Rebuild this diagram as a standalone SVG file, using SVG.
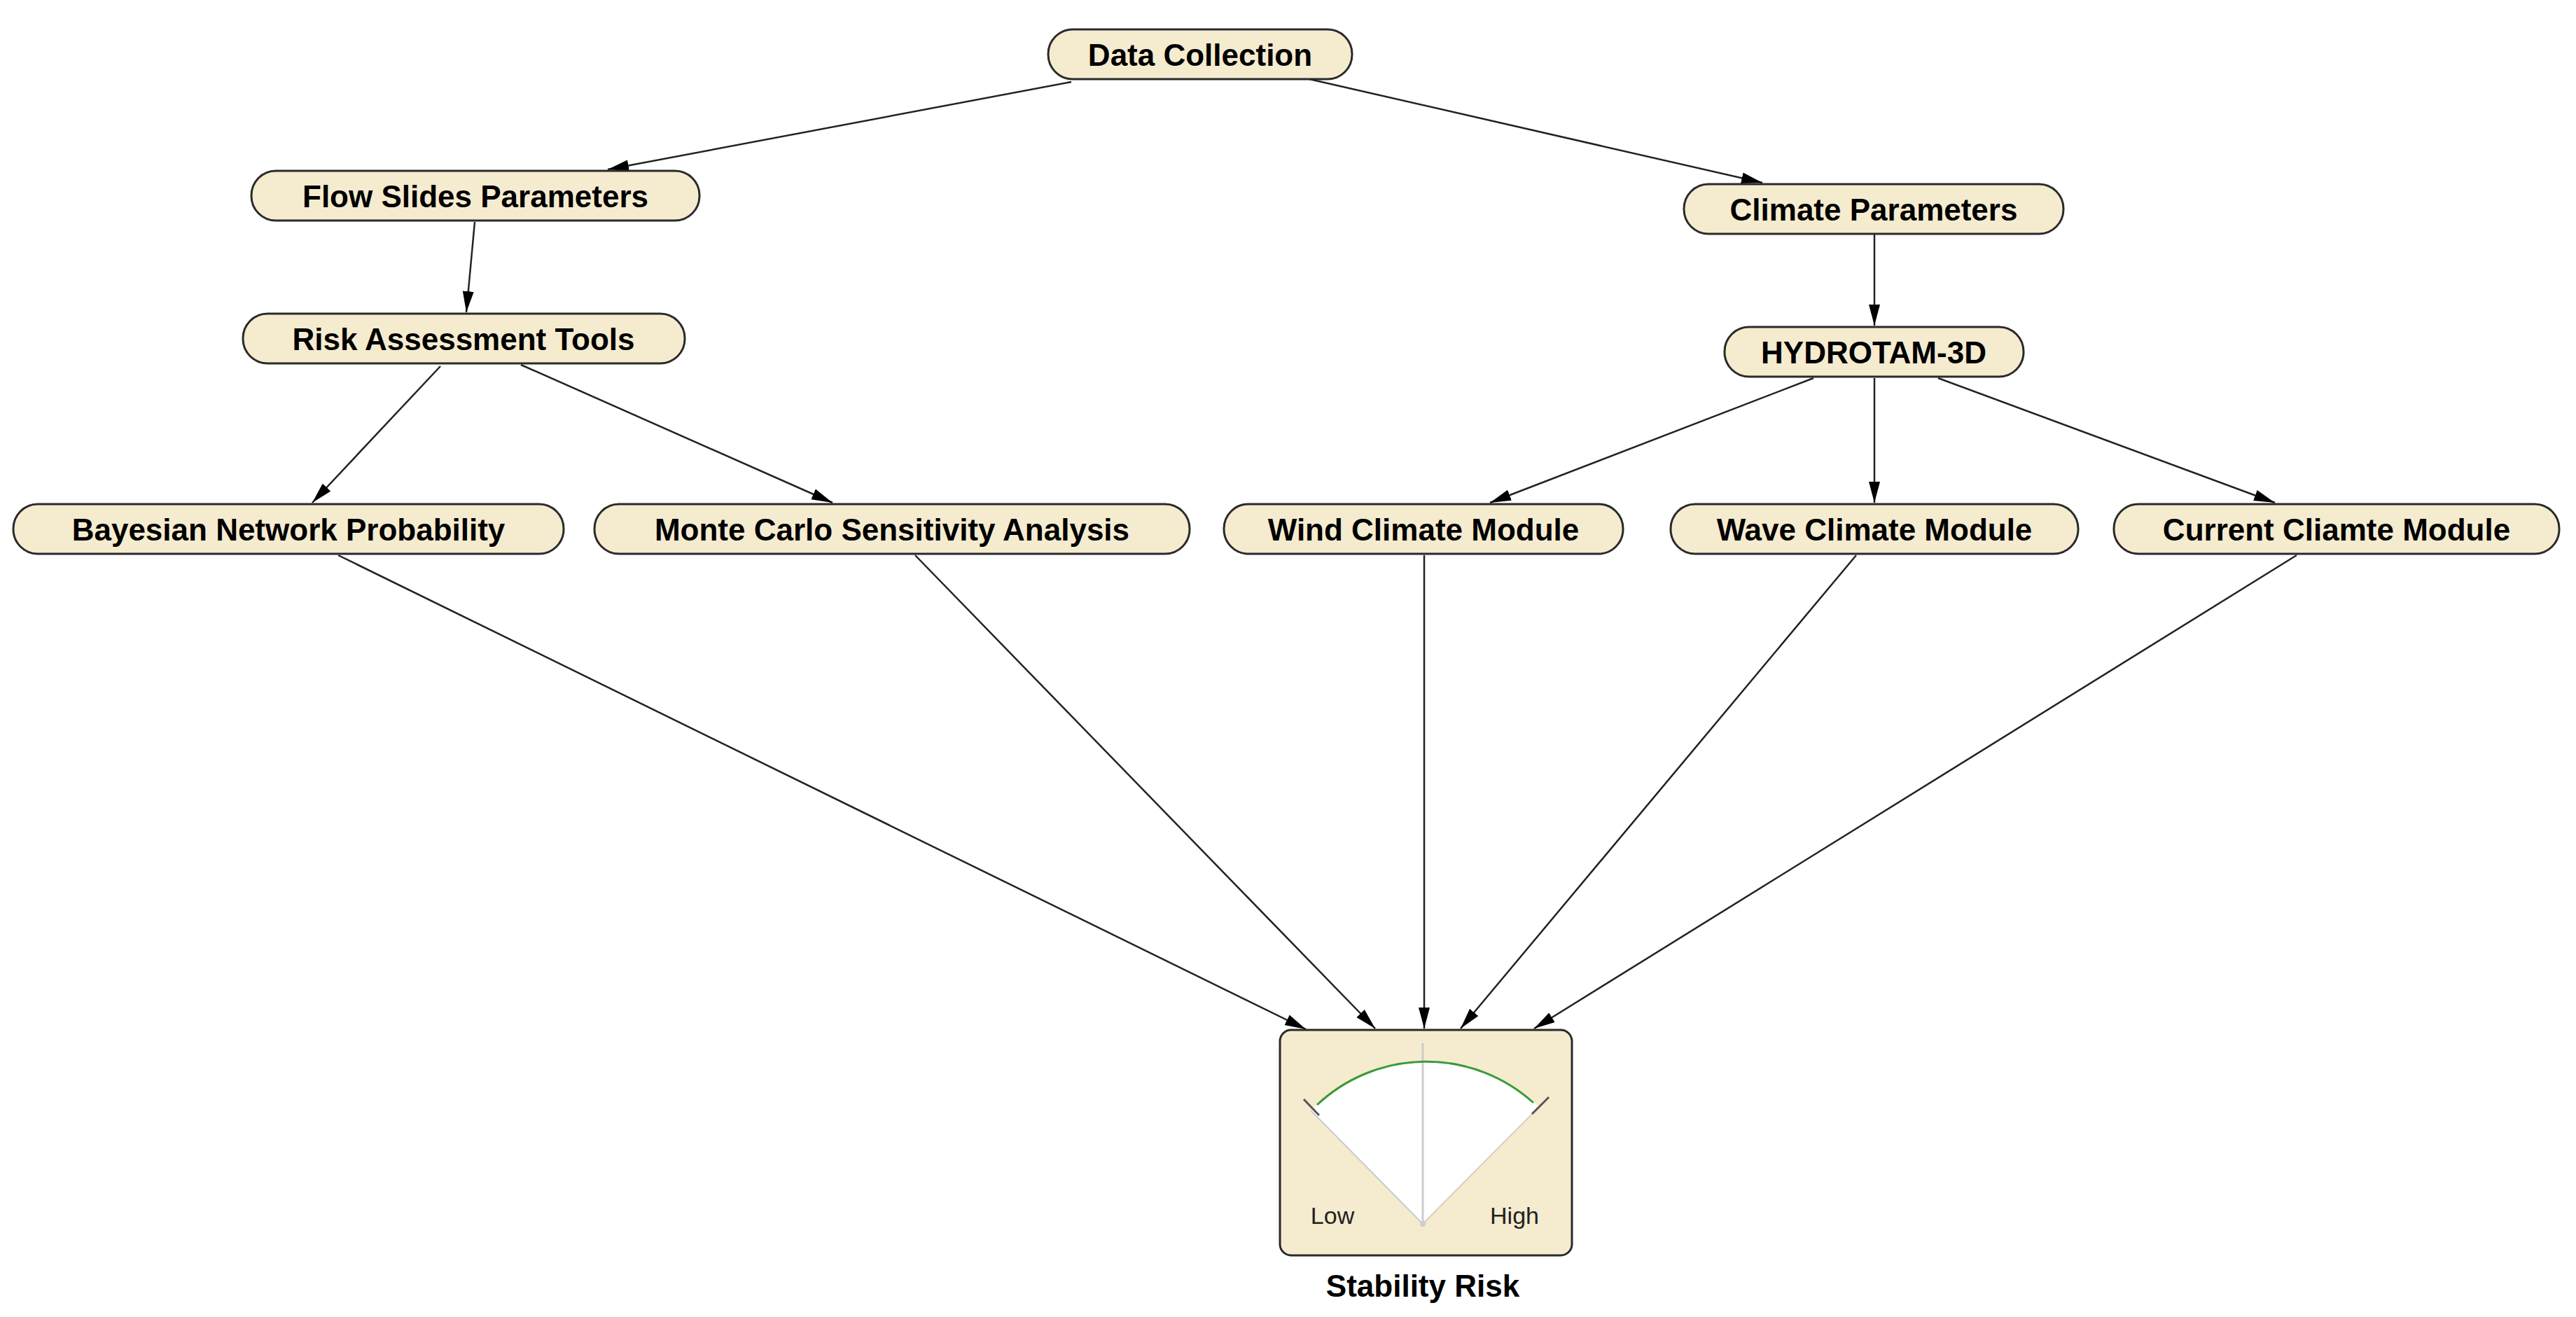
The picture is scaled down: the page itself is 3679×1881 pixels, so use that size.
<svg xmlns="http://www.w3.org/2000/svg" width="3679" height="1881" viewBox="0 0 3679 1881">
<style>
.n rect{fill:#f5ebcf;stroke:#2a2a2a;stroke-width:3}
.n text{font-family:"Liberation Sans",Arial,sans-serif;font-weight:bold;font-size:44px;fill:#000;text-anchor:middle;dominant-baseline:central}
.e line{stroke:#222;stroke-width:2.5;marker-end:url(#a)}
</style>
<defs>
<marker id="a" markerUnits="userSpaceOnUse" markerWidth="32" markerHeight="20" refX="30" refY="10" orient="auto"><path d="M0,2 L30,10 L0,18 Z" fill="#000"/></marker>
</defs>
<rect width="3679" height="1881" fill="#fff"/>
<g id="connectors" class="e">
<line x1="1530" y1="117" x2="868" y2="242"/>
<line x1="1870" y1="113" x2="2517" y2="261"/>
<line x1="678" y1="317" x2="666" y2="446"/>
<line x1="2677" y1="335" x2="2677" y2="465"/>
<line x1="629" y1="523" x2="446" y2="718"/>
<line x1="744" y1="521" x2="1189" y2="718"/>
<line x1="2590" y1="540" x2="2128" y2="718"/>
<line x1="2677" y1="540" x2="2677" y2="718"/>
<line x1="2768" y1="540" x2="3249" y2="718"/>
<line x1="483" y1="793" x2="1865" y2="1470"/>
<line x1="1307" y1="793" x2="1964" y2="1469"/>
<line x1="2034" y1="793" x2="2034" y2="1469"/>
<line x1="2651" y1="793" x2="2086" y2="1469"/>
<line x1="3280" y1="793" x2="2191" y2="1469"/>
</g>
<g id="data-collection" class="n"><rect x="1497" y="42" width="434" height="71" rx="35"/><text x="1714" y="78">Data Collection</text></g>
<g id="flow-slides" class="n"><rect x="359" y="244" width="640" height="71" rx="35"/><text x="679" y="280">Flow Slides Parameters</text></g>
<g id="climate" class="n"><rect x="2405" y="263" width="542" height="71" rx="35"/><text x="2676" y="299">Climate Parameters</text></g>
<g id="risk-tools" class="n"><rect x="347" y="448" width="631" height="71" rx="35"/><text x="662" y="484">Risk Assessment Tools</text></g>
<g id="hydrotam" class="n"><rect x="2463" y="467" width="427" height="71" rx="35"/><text x="2676" y="503">HYDROTAM-3D</text></g>
<g id="bayesian" class="n"><rect x="19" y="720" width="786" height="71" rx="35"/><text x="412" y="756">Bayesian Network Probability</text></g>
<g id="monte-carlo" class="n"><rect x="849" y="720" width="850" height="71" rx="35"/><text x="1274" y="756">Monte Carlo Sensitivity Analysis</text></g>
<g id="wind" class="n"><rect x="1748" y="720" width="570" height="71" rx="35"/><text x="2033" y="756">Wind Climate Module</text></g>
<g id="wave" class="n"><rect x="2386" y="720" width="582" height="71" rx="35"/><text x="2677" y="756">Wave Climate Module</text></g>
<g id="current" class="n"><rect x="3019" y="720" width="636" height="71" rx="35"/><text x="3337" y="756">Current Cliamte Module</text></g>
<g id="stability-risk">
<rect x="1828" y="1471" width="417" height="322" rx="16" fill="#f5ebcf" stroke="#2a2a2a" stroke-width="3"/>
<path d="M2032,1748 L1872,1586 A232,232 0 0 1 2198,1581 Z" fill="#fff"/>
<line x1="2032" y1="1748" x2="1872" y2="1586" stroke="#ccc" stroke-width="2"/>
<line x1="2032" y1="1748" x2="2198" y2="1581" stroke="#d8d0c0" stroke-width="2"/>
<line x1="2032" y1="1748" x2="2032" y2="1490" stroke="#ccc" stroke-width="3"/>
<path d="M1881,1578 A228,228 0 0 1 2190,1575" fill="none" stroke="#3a9a3a" stroke-width="3"/>
<line x1="1862" y1="1570" x2="1884" y2="1593" stroke="#555" stroke-width="3"/>
<line x1="2212" y1="1567" x2="2188" y2="1591" stroke="#555" stroke-width="3"/>
<circle cx="2032" cy="1748" r="4" fill="#ccc"/>
<text x="1903" y="1736" font-family="Liberation Sans,Arial,sans-serif" font-size="34" text-anchor="middle" dominant-baseline="central" fill="#222">Low</text>
<text x="2163" y="1736" font-family="Liberation Sans,Arial,sans-serif" font-size="34" text-anchor="middle" dominant-baseline="central" fill="#222">High</text>
<text x="2032" y="1836" font-family="Liberation Sans,Arial,sans-serif" font-weight="bold" font-size="44" text-anchor="middle" dominant-baseline="central">Stability Risk</text>
</g>
</svg>
